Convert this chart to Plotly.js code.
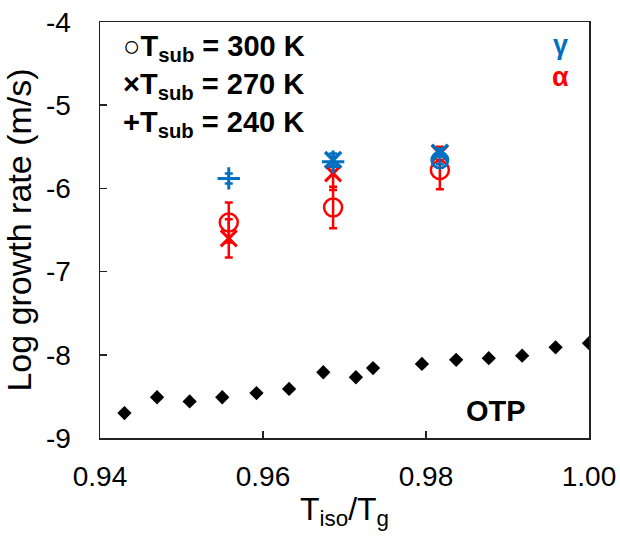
<!DOCTYPE html>
<html>
<head>
<meta charset="utf-8">
<script src="https://cdn.plot.ly/plotly-3.0.1.min.js"></script>
<style>html,body{margin:0;padding:0;background:#fff}#chart{width:620px;height:542px}</style>
</head>
<body>
<div id="chart"></div>
<script>
// OTP reference (black diamonds)
const otpX = [0.943, 0.947, 0.951, 0.955, 0.9592, 0.9632, 0.9674, 0.9714, 0.9735, 0.9795, 0.9837, 0.9877, 0.9918, 0.9959, 1.0];
const otpY = [-8.70, -8.51, -8.56, -8.51, -8.46, -8.41, -8.21, -8.27, -8.16, -8.11, -8.06, -8.04, -8.01, -7.91, -7.86];

// alpha phase (red)
const alpha300X = [0.9558, 0.9686, 0.9817];
const alpha300Y = [-6.41, -6.23, -5.78];
const alpha300Err = [0.24, 0.25, 0.23];
const alpha270X = [0.9558, 0.9686, 0.9817];
const alpha270Y = [-6.60, -5.82, -5.58];
const alpha270Err = [0.23, 0.20, 0.08];

// gamma phase (blue)
const gamma300X = [0.9817];
const gamma300Y = [-5.66];
const gamma300Err = [0.05];
const gamma270X = [0.9686, 0.9817];
const gamma270Y = [-5.66, -5.57];
const gamma270Err = [0.08, 0.05];
const gamma240X = [0.9558, 0.9686];
const gamma240Y = [-5.88, -5.68];
const gamma240Err = [0.06, 0.05];

const xTicks = [0.94, 0.96, 0.98, 1.00];
const xTickText = ['0.94', '0.96', '0.98', '1.00'];
const yTicks = [-9, -8, -7, -6, -5, -4];
const yTickText = ['-9', '-8', '-7', '-6', '-5', '-4'];

const RED = '#ff0000';
const BLUE = '#0070c0';
const FONT = '"Liberation Sans", Arial, sans-serif';

function errs(arr, color) {
  return {type: 'data', array: arr, visible: true, color: color, thickness: 2.5, width: 4};
}

const traces = [
  {x: otpX, y: otpY, mode: 'markers', type: 'scatter',
   marker: {symbol: 'diamond', size: 11, color: '#000'}},
  {x: alpha300X, y: alpha300Y, mode: 'markers', type: 'scatter', error_y: errs(alpha300Err, RED),
   marker: {symbol: 'circle-open', size: 18, color: RED, line: {width: 2.5, color: RED}}},
  {x: alpha270X, y: alpha270Y, mode: 'markers', type: 'scatter', error_y: errs(alpha270Err, RED),
   marker: {symbol: 'x-thin-open', size: 16, color: RED, line: {width: 3, color: RED}}},
  {x: gamma300X, y: gamma300Y, mode: 'markers', type: 'scatter', error_y: errs(gamma300Err, BLUE),
   marker: {symbol: 'circle-open', size: 16, color: BLUE, line: {width: 3, color: BLUE}}},
  {x: gamma270X, y: gamma270Y, mode: 'markers', type: 'scatter', error_y: errs(gamma270Err, BLUE),
   marker: {symbol: 'x-thin-open', size: 16, color: BLUE, line: {width: 3.5, color: BLUE}}},
  {x: gamma240X, y: gamma240Y, mode: 'markers', type: 'scatter', error_y: errs(gamma240Err, BLUE),
   marker: {symbol: 'cross-thin-open', size: 16, color: BLUE, line: {width: 3, color: BLUE}}}
];

function px(x) { return (x - 100) / 489; }
function py(y) { return (438 - y) / 416; }

const annBase = {xref: 'paper', yref: 'paper', showarrow: false, xanchor: 'left', yanchor: 'middle'};
const legFont = {family: FONT, size: 29, color: '#000'};

const layout = {
  width: 620, height: 542,
  margin: {l: 100, r: 31, t: 22, b: 104},
  paper_bgcolor: '#fff', plot_bgcolor: '#fff',
  showlegend: false,
  font: {family: FONT, color: '#000'},
  xaxis: {
    range: [0.94, 1.0], tickvals: xTicks, ticktext: xTickText,
    ticks: 'inside', ticklen: 7, tickwidth: 1.5, tickcolor: '#222',
    showline: true, linecolor: '#222', linewidth: 1.5, mirror: true,
    showgrid: false, zeroline: false,
    tickfont: {family: FONT, size: 28, color: '#000'},
    ticklabelstandoff: 13,
    title: {text: 'T<sub>iso</sub>/T<sub>g</sub>', font: {family: FONT, size: 32, color: '#000'}, standoff: 6}
  },
  yaxis: {
    range: [-9, -4], tickvals: yTicks, ticktext: yTickText,
    ticks: 'inside', ticklen: 7, tickwidth: 1.5, tickcolor: '#222',
    showline: true, linecolor: '#222', linewidth: 1.5, mirror: true,
    showgrid: false, zeroline: false,
    tickfont: {family: FONT, size: 28, color: '#000'},
    ticklabelstandoff: 22,
    title: {text: 'Log growth rate (m/s)', font: {family: FONT, size: 34, color: '#000'}, standoff: 4}
  },
  annotations: [
    Object.assign({}, annBase, {x: px(121), y: py(48), text: '<b>○T<sub>sub</sub> = 300 K</b>', font: legFont}),
    Object.assign({}, annBase, {x: px(121), y: py(86), text: '<b>×T<sub>sub</sub> = 270 K</b>', font: legFont}),
    Object.assign({}, annBase, {x: px(121), y: py(124), text: '<b>+T<sub>sub</sub> = 240 K</b>', font: legFont}),
    Object.assign({}, annBase, {x: px(560), y: py(45), xanchor: 'center', text: '<b>γ</b>', font: {family: FONT, size: 27, color: BLUE}}),
    Object.assign({}, annBase, {x: px(560), y: py(77), xanchor: 'center', text: '<b>α</b>', font: {family: FONT, size: 27, color: RED}}),
    Object.assign({}, annBase, {x: px(496), y: py(411), xanchor: 'center', text: '<b>OTP</b>', font: {family: FONT, size: 29, color: '#000'}})
  ]
};

Plotly.newPlot('chart', traces, layout, {displayModeBar: false, staticPlot: true});
</script>
</body>
</html>
